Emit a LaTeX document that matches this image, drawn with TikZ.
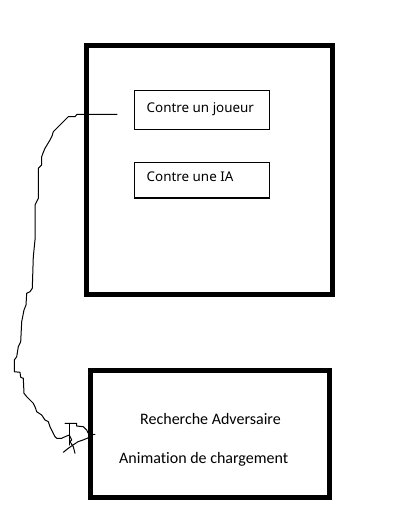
\documentclass[tikz,border=0pt]{standalone}
\usepackage{fontspec}
\setmainfont{Carlito}[Ligatures={NoCommon}]
\newfontfamily\uifont{Noto Sans}
\begin{document}
\begin{tikzpicture}[x=1pt,y=-1pt,
  bigbox/.style={draw,line width=5pt,inner sep=0,outer sep=0,anchor=north west},
  smallbox/.style={draw,line width=1.2pt,inner sep=0,outer sep=0,anchor=north west},
  lbl/.style={anchor=base west,inner sep=0,font=\fontsize{16}{19}\selectfont},
  uilbl/.style={anchor=base west,inner sep=0,font=\uifont\fontsize{13.4}{16}\selectfont},
  hand/.style={line width=1pt,line join=round,line cap=round}]
\useasboundingbox[fill=white] (0,0) rectangle (411,530);
% outer boxes
\node[bigbox,minimum width=245.5pt,minimum height=249pt] (menu) at (86.5,45) {};
\node[bigbox,minimum width=238.5pt,minimum height=127pt] (search) at (90.5,370) {};
% inner boxes
\node[smallbox,minimum width=135.5pt,minimum height=38.5pt] (joueur) at (134.3,90.8) {};
\node[smallbox,minimum width=135.5pt,minimum height=35.7pt] (ia) at (134.3,162.3) {};
% labels
\node[uilbl] (tj) at (146.5,112) {Contre un joueur};
\node[uilbl] (tia) at (146.5,181.5) {Contre une IA};
\node[lbl] (tra) at (140,424.3) {Recherche Adversaire};
\node[lbl] (tac) at (119,463.3) {Animation de chargement};
% hand-drawn connector
\coordinate (cstart) at (117,114.3);
\coordinate (cend) at (95,434.3);
\draw[hand] (cstart) -- (77,114.3) -- (75,116.7) -- (68.3,116.7) -- (60,125) -- (53.3,131.7) -- (52,136) -- (50,140)
  -- (45,148.3) -- (43,153) -- (41.7,156.7) -- (41.7,165) -- (38.3,168.3) -- (38.3,198.3) -- (35,205)
  -- (35,240) -- (33.3,256.7) -- (32.3,288.3) -- (30,291.7) -- (26.7,293.3) -- (26,305) -- (24,310)
  -- (21.7,321.7) -- (20.7,341.7) -- (18.3,346.7) -- (16.7,356.7) -- (14.3,360) -- (14.3,371.7)
  -- (20,372.3) -- (20.7,377.3) -- (23.3,378.3) -- (24,393.3) -- (26.7,396.7) -- (31.7,401.7)
  -- (33.3,403.3) -- (35,406.7) -- (36.7,411.7) -- (41.7,415) -- (45,420) -- (48.3,421.7) -- (50,426.7)
  -- (53.3,433.3) -- (55,436.7) -- (56.7,438.3) -- (61.7,438.3) -- (65,436.7) -- (69.3,435)
  -- (71.7,440) -- (70,441.7) -- (73.3,446.7) -- (75,453.3);
\draw[hand] (65,423.3) -- (76.7,423.3) -- (76.7,426) -- (83.3,426.7) -- (86.7,430) -- (88.3,433.3) -- (90,435) -- (cend);
\draw[hand] (69.3,423.3) -- (69.3,445);
\draw[hand] (89,437.5) -- (83,440) -- (78,441.7) -- (73,445) -- (68,448.5) -- (63.3,452.3);
\end{tikzpicture}
\end{document}
